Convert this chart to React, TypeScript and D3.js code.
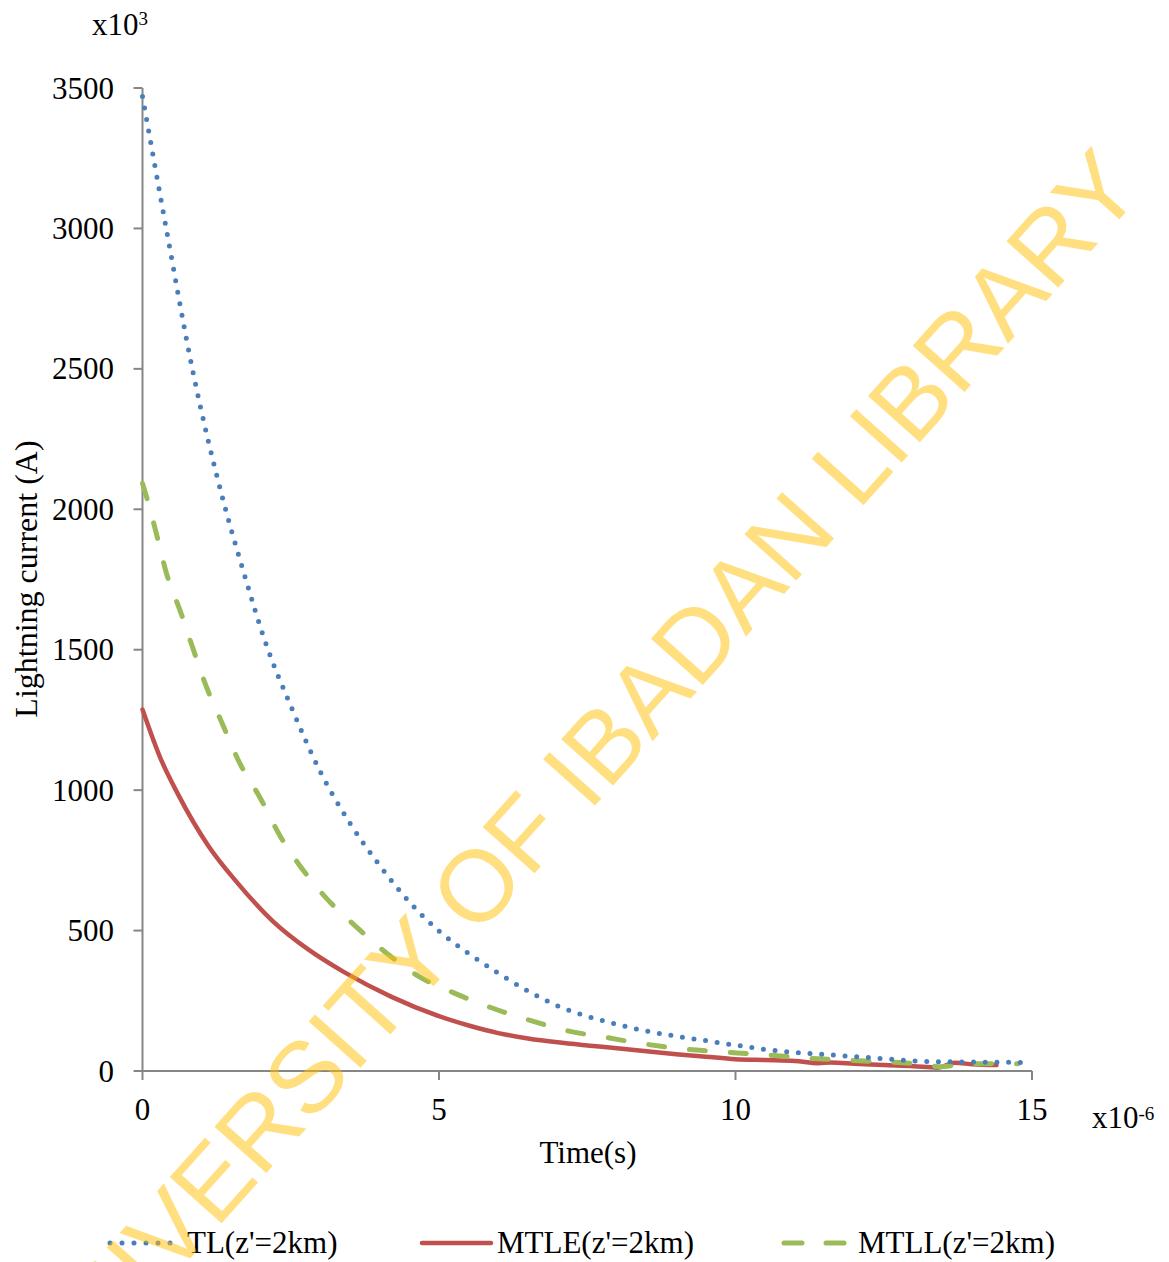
import React from "react";
import * as d3 from "d3";

// ---- data (time in µs, current in kA) ----
const tTL = [0, 0.4, 0.85, 1.35, 1.7, 2.1, 2.5, 3, 3.5, 4, 4.5, 5, 5.5, 6, 6.5, 7, 7.5, 8, 8.5, 9, 9.5, 10, 10.5, 11, 11.5, 12, 12.5, 13, 13.5, 14, 14.5, 14.9];
const iTL = [3470, 3000, 2490, 2040, 1780, 1510, 1300, 1065, 882, 732, 602, 498, 418, 348, 285, 232, 195, 166, 142, 124, 108, 92, 77, 66, 59, 51, 44, 36, 33, 32, 31, 30];

const tMTLE = [0, 0.3, 0.6, 1.1, 1.6, 2.2, 2.8, 3.4, 4.2, 5, 5.5, 6, 6.5, 7, 7.5, 8, 8.5, 9, 9.5, 10, 10.5, 11, 11.4, 11.6, 12, 12.5, 13, 13.4, 13.7, 14, 14.4];
const iMTLE = [1287, 1115, 985, 805, 670, 533, 432, 352, 264, 195, 162, 135, 116, 102, 91, 81, 70, 60, 51, 42, 39, 36, 28, 30, 26, 21, 17, 12, 29, 24, 21];

const tMTLL = [0, 0.1, 0.25, 0.4, 0.65, 0.85, 1.07, 1.35, 1.64, 1.98, 2.32, 2.71, 3.11, 3.55, 4.06, 4.65, 5.24, 5.86, 6.51, 7.15, 7.83, 8.5, 9.18, 9.85, 10.53, 11.2, 11.88, 12.58, 13.25, 13.45, 13.9, 14.6, 14.76];
const iMTLL = [2092, 2021, 1900, 1775, 1630, 1505, 1372, 1235, 1096, 974, 837, 715, 613, 524, 429, 338, 279, 227, 182, 144, 119, 95, 77, 67, 57, 46, 38, 32, 21, 15, 25, 26, 26];

const xTicks = [0, 5, 10, 15];
const yTicks = [0, 500, 1000, 1500, 2000, 2500, 3000, 3500];
const legendLabels = ["TL(z'=2km)", "MTLE(z'=2km)", "MTLL(z'=2km)"];

const W = 1169;
const H = 1262;
const FONT = "'Liberation Serif', 'Times New Roman', serif";
const AXIS = "#868686";
const C_TL = "#4A7EBB";
const C_MTLE = "#C0504D";
const C_MTLL = "#9BBB59";

export default function App() {
  const x = d3.scaleLinear().domain([0, 15]).range([142.5, 1032]);
  const y = d3.scaleLinear().domain([0, 3500]).range([1071, 88]);

  const mk = (ts: number[], vs: number[]) =>
    d3
      .line<number>()
      .x((_, i) => x(ts[i]))
      .y((v) => y(v))
      .curve(d3.curveMonotoneX)(vs) as string;

  const x0 = x(0);
  const y0 = y(0);

  return (
    <svg
      width={W}
      height={H}
      viewBox={`0 0 ${W} ${H}`}
      style={{ position: "absolute", left: 0, top: 0, display: "block", background: "#fff" }}
      fontFamily={FONT}
    >
      <rect x={0} y={0} width={W} height={H} fill="#fff" />

      {/* axes */}
      <line x1={x0} y1={y(3500)} x2={x0} y2={y0} stroke={AXIS} strokeWidth={2} />
      <line x1={x0} y1={y0} x2={x(15)} y2={y0} stroke={AXIS} strokeWidth={2} />
      {yTicks.map((t) => (
        <g key={"y" + t}>
          <line x1={x0 - 9} x2={x0} y1={y(t)} y2={y(t)} stroke={AXIS} strokeWidth={2} />
          <text x={114} y={y(t) + 10.5} textAnchor="end" fontSize={31} fill="#000">
            {t}
          </text>
        </g>
      ))}
      {xTicks.map((t) => (
        <g key={"x" + t}>
          <line x1={x(t)} x2={x(t)} y1={y0} y2={y0 + 9} stroke={AXIS} strokeWidth={2} />
          <text x={x(t)} y={1120} textAnchor="middle" fontSize={31} fill="#000">
            {t}
          </text>
        </g>
      ))}

      {/* multipliers */}
      <text x={92} y={35} fontSize={31} fill="#000">
        x10<tspan dy={-10} fontSize={19}>3</tspan>
      </text>
      <text x={1092} y={1128} fontSize={31} fill="#000">
        x10<tspan dy={-8} fontSize={19}>-6</tspan>
      </text>

      {/* axis titles */}
      <text x={588} y={1163} textAnchor="middle" fontSize={31} fill="#000">
        Time(s)
      </text>
      <text
        transform={`translate(37,579) rotate(-90)`}
        textAnchor="middle"
        fontSize={32}
        fill="#000"
      >
        Lightning current (A)
      </text>

      {/* series */}
      <path d={mk(tMTLE, iMTLE)} fill="none" stroke={C_MTLE} strokeWidth={4.5} strokeLinejoin="round" strokeLinecap="round" />
      <path d={mk(tMTLL, iMTLL)} fill="none" stroke={C_MTLL} strokeWidth={5} strokeDasharray="16 25" strokeLinecap="round" />
      <path d={mk(tTL, iTL)} fill="none" stroke={C_TL} strokeWidth={5} strokeDasharray="0 11.7" strokeLinecap="round" />

      {/* legend */}
      <line x1={110} x2={171} y1={1243} y2={1243} stroke={C_TL} strokeWidth={5} strokeDasharray="0 12" strokeLinecap="round" />
      <text x={187} y={1253} fontSize={31} fill="#000">
        {legendLabels[0]}
      </text>
      <line x1={422} x2={491} y1={1243} y2={1243} stroke={C_MTLE} strokeWidth={4.5} strokeLinecap="round" />
      <text x={497} y={1253} fontSize={31} fill="#000">
        {legendLabels[1]}
      </text>
      <line x1={784} x2={846} y1={1243} y2={1243} stroke={C_MTLL} strokeWidth={5} strokeDasharray="18 24" strokeLinecap="round" />
      <text x={858} y={1253} fontSize={31} fill="#000">
        {legendLabels[2]}
      </text>

      {/* watermark */}
      <text
        transform={`translate(600,800) rotate(-48.2)`}
        textAnchor="middle"
        fontSize={101}
        fontFamily="'Liberation Sans', Arial, sans-serif"
        fill="#FFC000"
        fillOpacity={0.5}
      >
        UNIVERSITY OF IBADAN LIBRARY
      </text>
    </svg>
  );
}
